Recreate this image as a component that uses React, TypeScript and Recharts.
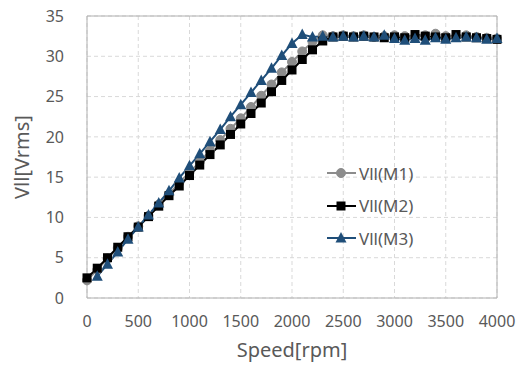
import React from "react";
import {
  LineChart,
  Line,
  XAxis,
  YAxis,
  CartesianGrid,
  Legend,
  ReferenceLine,
} from "recharts";

const speed = [
  0, 100, 200, 300, 400, 500, 600, 700, 800, 900, 1000, 1100, 1200, 1300,
  1400, 1500, 1600, 1700, 1800, 1900, 2000, 2100, 2200, 2300, 2400, 2500,
  2600, 2700, 2800, 2900, 3000, 3100, 3200, 3300, 3400, 3500, 3600, 3700,
  3800, 3900, 4000,
];

const vllM1 = [
  2.2, 3.5, 4.9, 6.2, 7.6, 8.9, 10.2, 11.6, 12.9, 14.3, 15.6, 16.9, 18.3,
  19.6, 21.0, 22.3, 23.7, 25.1, 26.5, 28.0, 29.3, 30.6, 31.8, 32.6, 32.5,
  32.6, 32.5, 32.6, 32.4, 32.5, 32.6, 32.5, 32.4, 32.6, 32.8, 32.5, 32.4,
  32.6, 32.4, 32.3, 32.2,
];

const vllM2 = [
  2.5, 3.7, 5.0, 6.3, 7.6, 8.8, 10.1, 11.4, 12.7, 13.9, 15.2, 16.5, 17.8,
  19.0, 20.3, 21.6, 22.9, 24.2, 25.6, 27.0, 28.3, 29.6, 30.8, 31.9, 32.4,
  32.5, 32.4, 32.5, 32.4, 32.3, 32.4, 32.3, 32.7, 32.5, 32.4, 32.3, 32.7,
  32.4, 32.3, 32.2, 32.1,
];

const vllM3 = [
  null, 2.7, 4.2, 5.7, 7.3, 8.8, 10.3, 11.8, 13.3, 14.9, 16.4, 17.9, 19.4,
  20.9, 22.5, 24.0, 25.5, 27.0, 28.5, 30.1, 31.6, 32.7, 32.4, 32.5, 32.4,
  32.5, 32.4, 32.5, 32.4, 32.6, 32.2, 32.0, 32.2, 32.0, 32.3, 32.1, 32.3,
  32.4, 32.3, 32.1, 32.2,
];

const xTicks = [0, 500, 1000, 1500, 2000, 2500, 3000, 3500, 4000];
const yTicks = [0, 5, 10, 15, 20, 25, 30, 35];

const data = speed.map((s, i) => ({
  speed: s,
  m1: vllM1[i],
  m2: vllM2[i],
  m3: vllM3[i],
}));

const FONT = "'Noto Sans', sans-serif";
const TEXT = "#595959";
const GRAY = "#8c8c8c";
const BLUE = "#1f4e79";

function Marker({ kind, cx, cy }: { kind: string; cx: number; cy: number }) {
  if (kind === "circle") return <circle cx={cx} cy={cy} r={4.5} fill={GRAY} stroke={GRAY} />;
  if (kind === "square")
    return <rect x={cx - 4.5} y={cy - 4.5} width={9} height={9} fill="#000" />;
  return (
    <polygon
      points={`${cx},${cy - 6} ${cx + 5.5},${cy + 4.5} ${cx - 5.5},${cy + 4.5}`}
      fill={BLUE}
    />
  );
}

const makeDot = (kind: string) => (props: any) => {
  const { cx, cy, index, value } = props;
  if (cx == null || cy == null || value == null) return <g key={`${kind}-${index}`} />;
  return (
    <g key={`${kind}-${index}`}>
      <Marker kind={kind} cx={cx} cy={cy} />
    </g>
  );
};

const legendItems = [
  { name: "Vll(M1)", color: GRAY, kind: "circle" },
  { name: "Vll(M2)", color: "#000", kind: "square" },
  { name: "Vll(M3)", color: BLUE, kind: "triangle" },
];

function LegendBox() {
  return (
    <div style={{ fontFamily: FONT, fontSize: 17, color: TEXT }}>
      {legendItems.map((it) => (
        <div key={it.name} style={{ display: "flex", alignItems: "center", height: 32.5 }}>
          <svg width={31} height={16} style={{ marginRight: 2 }}>
            <line x1={1} y1={8} x2={30} y2={8} stroke={it.color} strokeWidth={2} />
            <Marker kind={it.kind} cx={15} cy={8} />
          </svg>
          <span>{it.name}</span>
        </div>
      ))}
    </div>
  );
}

export default function App() {
  return (
    <div style={{ position: "absolute", left: 0, top: 0, background: "#fff" }}>
      <LineChart
        width={528}
        height={368}
        data={data}
        margin={{ top: 16, right: 31, left: 0, bottom: 0 }}
      >
        <CartesianGrid stroke="#d9d9d9" strokeDasharray="4 3" />
        <XAxis
          dataKey="speed"
          type="number"
          domain={[0, 4000]}
          ticks={xTicks}
          height={70}
          tickSize={0}
          tickMargin={18}
          axisLine={{ stroke: "#b0b0b0" }}
          tick={{ fill: TEXT, fontSize: 16, fontFamily: FONT }}
          label={{
            value: "Speed[rpm]",
            position: "insideBottom",
            offset: 11,
            style: { fill: TEXT, fontSize: 20, fontFamily: FONT },
          }}
        />
        <YAxis
          type="number"
          domain={[0, 35]}
          ticks={yTicks}
          width={87}
          tickSize={0}
          tickMargin={23}
          axisLine={{ stroke: "#b0b0b0" }}
          tick={{ fill: TEXT, fontSize: 16, fontFamily: FONT }}
          label={{
            value: "Vll[Vrms]",
            angle: -90,
            position: "insideLeft",
            offset: 22,
            style: { fill: TEXT, fontSize: 20, fontFamily: FONT, textAnchor: "middle" },
          }}
        />
        <ReferenceLine y={35} stroke="#b0b0b0" />
        <ReferenceLine x={4000} stroke="#b0b0b0" />
        <Legend
          layout="vertical"
          verticalAlign="middle"
          align="center"
          content={() => <LegendBox />}
          wrapperStyle={{ left: 326, top: 157, width: 120 }}
        />
        <Line
          dataKey="m1"
          name="Vll(M1)"
          stroke={GRAY}
          strokeWidth={2}
          dot={makeDot("circle")}
          isAnimationActive={false}
        />
        <Line
          dataKey="m2"
          name="Vll(M2)"
          stroke="#000"
          strokeWidth={2}
          dot={makeDot("square")}
          isAnimationActive={false}
        />
        <Line
          dataKey="m3"
          name="Vll(M3)"
          stroke={BLUE}
          strokeWidth={2}
          dot={makeDot("triangle")}
          isAnimationActive={false}
        />
      </LineChart>
    </div>
  );
}
